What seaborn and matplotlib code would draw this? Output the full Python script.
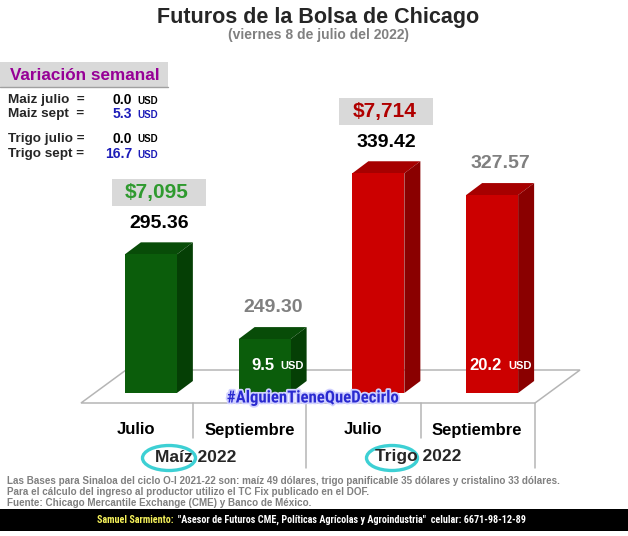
import matplotlib
matplotlib.use("Agg")
import matplotlib.pyplot as plt
import matplotlib.patheffects as pe
import seaborn as sns
from matplotlib.patches import Polygon, Rectangle, Ellipse

# datos del grafico
categorias = ["Maíz julio", "Maíz septiembre", "Trigo julio", "Trigo septiembre"]
meses = ["Julio", "Septiembre", "Julio", "Septiembre"]
precios = [295.36, 249.30, 339.42, 327.57]
ingreso = ["$7,095", "", "$7,714", ""]
cambio_usd = ["", "9.5", "", "20.2"]
cultivos = ["Maíz", "Trigo"]
var_nombres = ["Maiz julio  =", "Maiz sept  =", "Trigo julio =", "Trigo sept ="]
var_valores = [0.0, 5.3, 0.0, 16.7]
notas = [
    "Las Bases para Sinaloa del ciclo O-I 2021-22 son: maíz 49 dólares, trigo panificable 35 dólares y cristalino 33 dólares.",
    "Para el cálculo del ingreso al productor utilizo el TC Fix publicado en el DOF.",
    "Fuente: Chicago Mercantile Exchange (CME) y Banco de México.",
]

W, H = 628, 536
sns.set_theme(style="white")
plt.rcParams["font.family"] = ["Liberation Sans", "DejaVu Sans"]
narrow = ["Roboto Condensed", "Liberation Sans Narrow", "Liberation Sans"]

fig = plt.figure(figsize=(W / 100, H / 100), dpi=100)
fig.patch.set_facecolor("white")
r = fig.canvas.get_renderer()


def txt(x, y, s, **kw):
    kw.setdefault("ha", "center")
    kw.setdefault("va", "center")
    kw.setdefault("fontweight", "bold")
    return fig.text(x / W, 1 - y / H, s, **kw)


def ajustar(t, ancho):
    # ajusta el tamano de letra para ocupar el ancho del original
    w = t.get_window_extent(r).width
    t.set_fontsize(t.get_fontsize() * ancho / w)


# capa de decoracion en pixeles
deco = fig.add_axes([0, 0, 1, 1], zorder=0)
deco.set_xlim(0, W)
deco.set_ylim(H, 0)
deco.axis("off")

# ejes de las barras
xl, xr, yb, yt = 94, 549, 393, 60
ax = fig.add_axes([xl / W, 1 - yb / H, (xr - xl) / W, (yb - yt) / H], zorder=1)
ax.patch.set_alpha(0)

frente = ["#0b5d0b", "#0b5d0b", "#cc0000", "#cc0000"]
lado = ["#053f05", "#053f05", "#8a0000", "#8a0000"]
tapa = ["#084c08", "#084c08", "#a60000", "#a60000"]

df = {"cat": categorias, "precio": precios}
sns.barplot(data=df, x="cat", y="precio", hue="cat", palette=frente,
            saturation=1, width=0.457, legend=False, linewidth=0, ax=ax)
ax.set_xlim(-0.5, 3.5)
ax.set_ylim(220, 220 + (yb - yt) / 1.84)
ax.axis("off")

# piso
deco.add_patch(Polygon([(81, 403), (126, 370), (580, 370), (535, 403)],
                       closed=True, fc="white", ec="#b5b5b5", lw=1.1, zorder=1))
for x, fin in zip([193, 306, 421, 535], [438, 468, 438, 468]):
    deco.plot([x, x], [403, fin], color="#b5b5b5", lw=1.1, zorder=1)

# caras laterales y superiores en 3D
dx, dy = 16, 12
for i, p in enumerate(ax.patches):
    x0, top = ax.transData.transform((p.get_x(), p.get_height()))
    x1, bot = ax.transData.transform((p.get_x() + p.get_width(), ax.get_ylim()[0]))
    top, bot = H - top, H - bot
    deco.add_patch(Polygon([(x0, top), (x0 + dx, top - dy), (x1 + dx, top - dy), (x1, top)],
                           closed=True, fc=tapa[i], ec="none", zorder=2))
    deco.add_patch(Polygon([(x1, top), (x1 + dx, top - dy), (x1 + dx, bot - dy), (x1, bot)],
                           closed=True, fc=lado[i], ec="none", zorder=2))

    cx = (x0 + x1) / 2
    col = "black" if meses[i] == "Julio" else "#808080"
    if ingreso[i]:
        deco.add_patch(Rectangle((cx - 39, top - 75), 94, 27, fc="#d9d9d9", ec="none", zorder=2))
        txt(cx + 6, top - 61.5, ingreso[i], fontsize=15,
            color="#2f9a2f" if i < 2 else "#b00000")
        txt(cx + 8, top - 31, f"{precios[i]:.2f}", fontsize=14, color=col)
    else:
        txt(cx + 8, top - 32, f"{precios[i]:.2f}", fontsize=14, color=col)
    if cambio_usd[i]:
        txt(cx + 10, bot - 28, cambio_usd[i], fontsize=12, color="white", ha="right")
        txt(cx + 16, bot - 27, "USD", fontsize=8, color="white", ha="left")

    txt(cx - 15, 430, meses[i], fontsize=12, color="black")

# etiquetas de cultivo
for x, nombre in zip([155, 375], cultivos):
    txt(x, 457, nombre + " 2022", fontsize=12.5, ha="left")
deco.add_patch(Ellipse((169, 458), 53, 25, fill=False, ec="#3dd0d4", lw=2.4, zorder=3))
deco.add_patch(Ellipse((392, 458), 51, 25, fill=False, ec="#3dd0d4", lw=2.4, zorder=3))

hashtag = txt(313, 398, "#AlguienTieneQueDecirlo", fontsize=11, color="#2a2ad0",
              family=narrow,
              path_effects=[pe.withStroke(linewidth=2.5, foreground="#d0d0ff")])
ajustar(hashtag, 172)

# titulos
txt(318, 17, "Futuros de la Bolsa de Chicago", fontsize=15.5)
txt(318, 35, "(viernes 8 de julio del 2022)", fontsize=10, color="#808080")

# variacion semanal
deco.add_patch(Rectangle((0, 62), 168, 25, fc="#d9d9d9", ec="none", zorder=1))
deco.plot([0, 168], [87, 87], color="#a0a0a0", lw=1, zorder=1)
txt(85, 75, "Variación semanal", fontsize=12.3, color="#960096")
for nombre, val, y in zip(var_nombres, var_valores, [100, 114, 139, 154]):
    txt(8, y, nombre, fontsize=9.7, ha="left")
    txt(132, y, f"{val:.1f}", fontsize=10, ha="right",
        color="black" if val == 0 else "#1c1cb8")
    txt(137, y + 0.5, "USD", fontsize=7, ha="left",
        color="black" if val == 0 else "#1c1cb8")

# notas
for s, y in zip(notas, [481, 492, 503]):
    txt(7, y, s, fontsize=7.15, ha="left", color="#808080")

# banda inferior
deco.add_patch(Rectangle((0, 509), W, 22, fc="black", ec="none", zorder=1))
t1 = txt(97, 520, "Samuel Sarmiento:", color="#f4f05a", ha="left", fontsize=9, family=narrow)
t2 = txt(97, 520, "\"Asesor de Futuros CME, Políticas Agrícolas y Agroindustria\"  celular: 6671-98-12-89",
         color="white", ha="left", fontsize=9, family=narrow)
w1 = t1.get_window_extent(r).width
w2 = t2.get_window_extent(r).width
k = (430 - 4) / (w1 + w2)
for t in (t1, t2):
    t.set_fontsize(9 * k)
w1 = t1.get_window_extent(r).width
t2.set_x((97 + w1 + 4) / W)

fig.savefig("out.png", dpi=100)
